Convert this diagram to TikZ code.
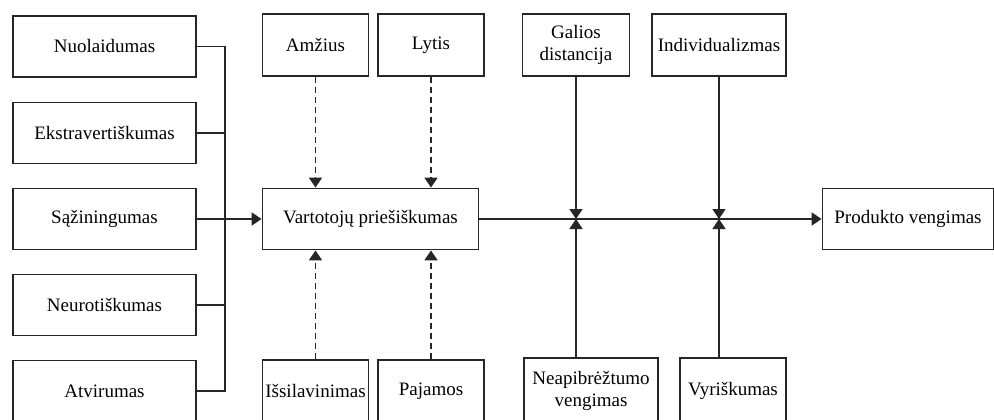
\documentclass[tikz,border=0pt]{standalone}
\usepackage{fontspec}
\setmainfont{Liberation Serif}
\usetikzlibrary{arrows.meta}
\begin{document}
\begin{tikzpicture}[x=1pt,y=-1pt,
  box/.style={draw=black!85,line width=1.8pt,inner sep=0pt,align=center,
    font=\fontsize{19}{22.5}\selectfont},
  conn/.style={line width=1.8pt,draw=black!85},
  arr/.style={conn,-{Triangle[length=10pt,width=13pt]}},
  darr/.style={arr,dash pattern=on 6pt off 4pt}]
\clip (0,0) rectangle (994,420);
\useasboundingbox (0,0) rectangle (994,420);
% left column
\node[box,minimum width=183pt,minimum height=61pt] (n1) at (104.5,46.5) {Nuolaidumas};
\node[box,minimum width=183pt,minimum height=61pt] (n2) at (104.5,133) {Ekstravertiškumas};
\node[box,minimum width=183pt,minimum height=61pt] (n3) at (104.5,219) {Sąžiningumas};
\node[box,minimum width=183pt,minimum height=61pt] (n4) at (104.5,305) {Neurotiškumas};
\node[box,minimum width=183pt,minimum height=61pt] (n5) at (104.5,391) {Atvirumas};
% centre
\node[box,minimum width=216pt,minimum height=61pt] (v) at (370.5,219) {Vartotojų priešiškumas};
\node[box,minimum width=106pt,minimum height=62pt] (am) at (315.5,45) {Amžius};
\node[box,minimum width=106pt,minimum height=62pt] (ly) at (431,45) {Lytis};
\node[box,minimum width=106pt,minimum height=62pt] (is) at (315.5,391) {Išsilavinimas};
\node[box,minimum width=106pt,minimum height=62pt] (pa) at (431,391) {Pajamos};
% right
\node[box,minimum width=107pt,minimum height=62pt] (ga) at (576,45) {Galios\\distancija};
\node[box,minimum width=134pt,minimum height=62pt] (in) at (719,45) {Individualizmas};
\node[box,minimum width=134pt,minimum height=66pt] (ne) at (591,391) {Neapibrėžtumo\\vengimas};
\node[box,minimum width=106pt,minimum height=66pt] (vy) at (733,391) {Vyriškumas};
\node[box,minimum width=171pt,minimum height=61pt] (pr) at (908,219) {Produkto vengimas};
% bus
\coordinate (b1) at (225,46.5);
\coordinate (b5) at (225,391);
\draw[conn] (n1.east) -- (b1) -- (b5) -- (n5.east);
\draw[conn] (n2.east) -- (b1 |- n2.east);
\draw[conn] (n4.east) -- (b1 |- n4.east);
\draw[arr] (n3.east) -- (v.west);
% dashed
\draw[darr] (am.south) -- (am.south |- v.north);
\draw[darr] (ly.south) -- (ly.south |- v.north);
\draw[darr] (is.north) -- (is.north |- v.south);
\draw[darr] (pa.north) -- (pa.north |- v.south);
% main line
\draw[arr] (v.east) -- (pr.west);
\coordinate (x1) at (576,219);
\coordinate (x2) at (719,219);
\draw[arr] (ga.south) -- (x1);
\draw[arr] (x1 |- ne.north) -- (x1);
\draw[arr] (in.south) -- (x2);
\draw[arr] (x2 |- vy.north) -- (x2);
\end{tikzpicture}
\end{document}
